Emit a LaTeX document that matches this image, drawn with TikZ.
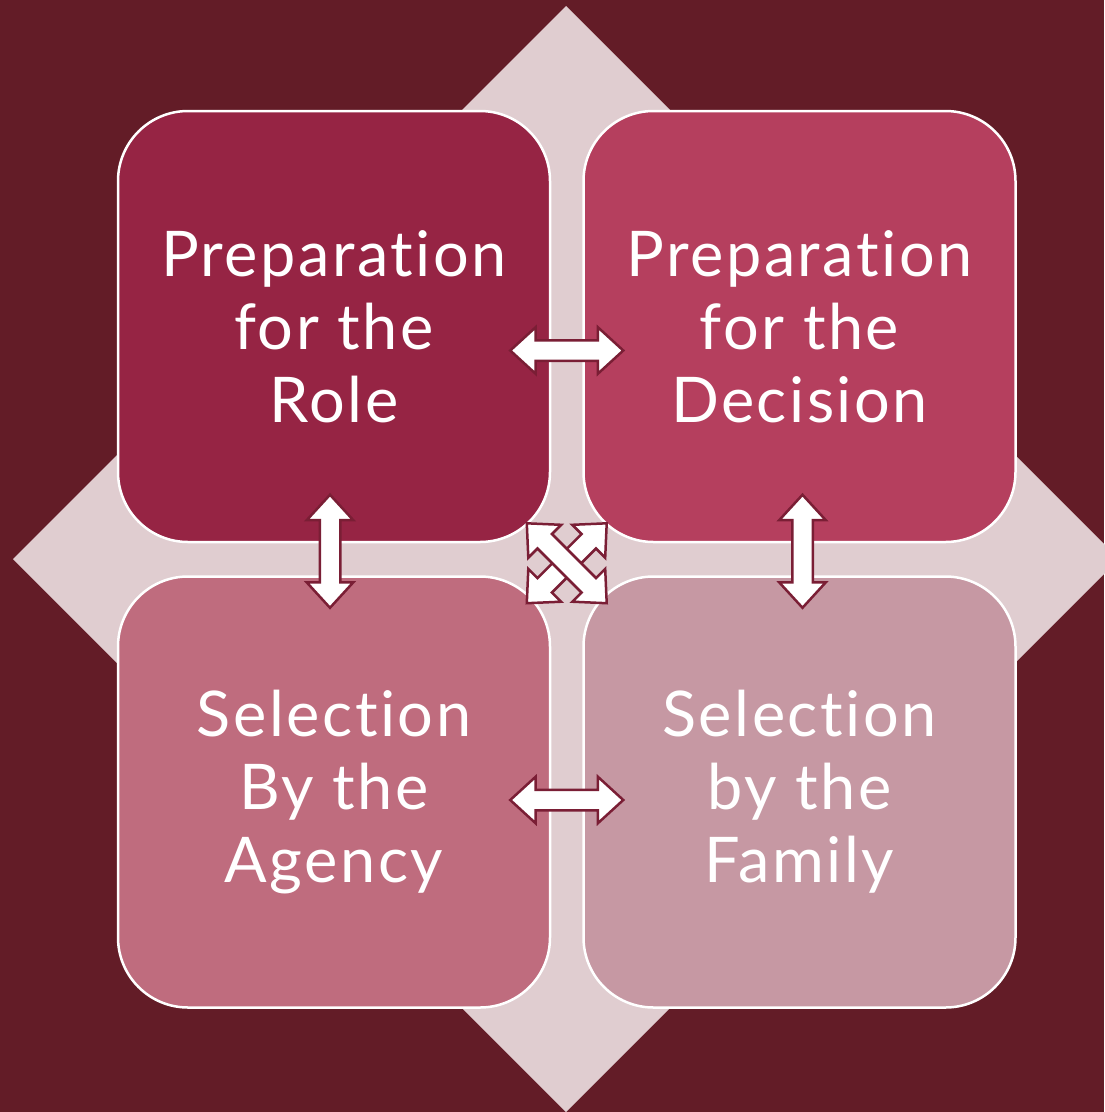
\documentclass[tikz,border=0pt]{standalone}
\usepackage{fontspec}
\setmainfont{Lato}[LetterSpace=4,Ligatures=NoCommon]
\usetikzlibrary{positioning,calc,shapes.arrows}
\definecolor{bgdark}{HTML}{631C27}
\definecolor{diapink}{HTML}{E0CDD0}
\definecolor{roleclr}{HTML}{962444}
\definecolor{decclr}{HTML}{B53F5E}
\definecolor{agencyclr}{HTML}{BF6C7E}
\definecolor{familyclr}{HTML}{C698A3}
\definecolor{arrowline}{HTML}{7A1E35}
\tikzset{
  quad/.style={rectangle, rounded corners=70pt, draw=white, line width=2.5pt,
    minimum width=432pt, minimum height=431pt, text=white, align=center,
    font=\fontsize{63}{73}\selectfont},
  dblarrow/.style={double arrow, draw=arrowline, fill=white, line width=2.5pt,
    minimum height=113pt, minimum width=44pt, inner xsep=0pt, inner ysep=9pt,
    text height=0pt, text depth=0pt, double arrow head extend=13pt,
    double arrow tip angle=85}
}
\newcommand{\qbox}[4]{\node [quad, fill=#4] (#1) at (#2) {#3}}

\begin{document}
\begin{tikzpicture}[x=1pt,y=-1pt]
\useasboundingbox (0,0) rectangle (1104,1112);
\fill[bgdark] (0,0) rectangle (1104,1112);
\fill[diapink] (566,6) -- (1119,559) -- (566,1112) -- (13,559) -- cycle;

\qbox{ROLE}{334,326.5}{Preparation\\for the\\Role}{roleclr};
\qbox{DEC}{799.5,326.5}{Preparation\\for the\\Decision}{decclr};
\qbox{AGENCY}{334,792}{Selection\\By the\\Agency}{agencyclr};
\qbox{FAMILY}{799.5,792}{Selection\\by the\\Family}{familyclr};

\node [dblarrow] (RD) at ($(ROLE.east)!0.5!(DEC.west)+(0,24)$) {};
\node [dblarrow] (AF) at ($(AGENCY.east)!0.5!(FAMILY.west)+(0,8)$) {};
\node [dblarrow, rotate=90] (RA) at ($(ROLE.south)!0.5!(AGENCY.north)+(-4,-8)$) {};
\node [dblarrow, rotate=90] (DF) at ($(DEC.south)!0.5!(FAMILY.north)+(3,-8)$) {};
\node [dblarrow, rotate=45] (RF) at ($(ROLE.south east)!0.5!(FAMILY.north west)+(0,4)$) {};
\node [dblarrow, rotate=-45] (DA) at ($(DEC.south west)!0.5!(AGENCY.north east)+(0,4)$) {};

\end{tikzpicture}
\end{document}
